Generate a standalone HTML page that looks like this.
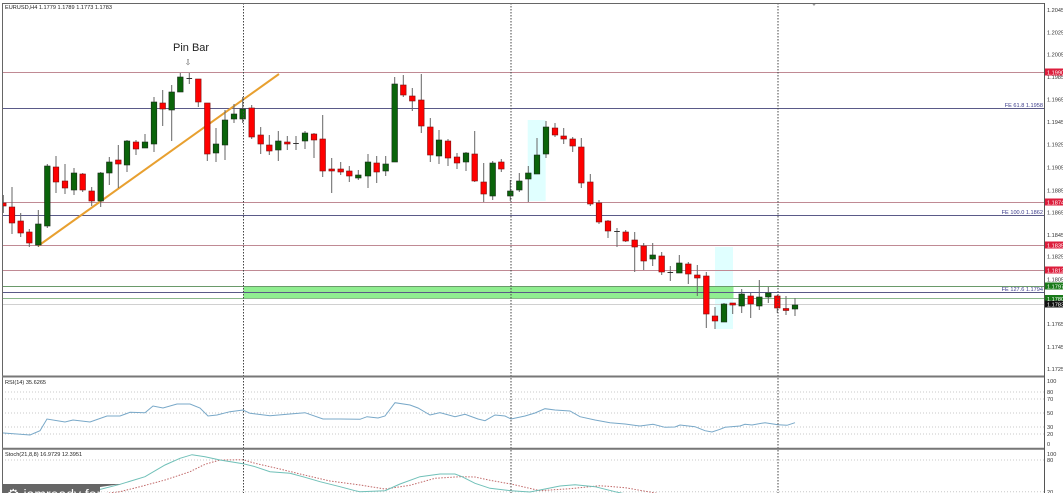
<!DOCTYPE html>
<html><head><meta charset="utf-8"><style>
html,body{margin:0;padding:0;background:#fff;}
svg{display:block;font-family:"Liberation Sans",sans-serif;}
.ax{font-size:5.6px;fill:#333;}
</style></head><body>
<svg width="1063" height="493" viewBox="0 0 1063 493" xmlns="http://www.w3.org/2000/svg">
<defs><clipPath id="mc"><rect x="2" y="3" width="1042" height="373"/></clipPath>
<clipPath id="rc"><rect x="2" y="377" width="1042" height="71"/></clipPath>
<clipPath id="sc"><rect x="2" y="449.5" width="1042" height="44"/></clipPath></defs>
<rect width="1063" height="493" fill="#fff"/>
<g clip-path="url(#mc)">
<rect x="527.7" y="120" width="18" height="81" fill="#e0ffff"/>
<rect x="715" y="247" width="18" height="82" fill="#e0ffff"/>
<g stroke-width="1">
<line x1="2" y1="72.5" x2="1044" y2="72.5" stroke="#c08a94"/>
<line x1="2" y1="108.5" x2="1044" y2="108.5" stroke="#5a5a88"/>
<line x1="2" y1="202.5" x2="1044" y2="202.5" stroke="#c08a94"/>
<line x1="2" y1="215.5" x2="1044" y2="215.5" stroke="#5a5a88"/>
<line x1="2" y1="245.5" x2="1044" y2="245.5" stroke="#c08a94"/>
<line x1="2" y1="270.5" x2="1044" y2="270.5" stroke="#c08a94"/>
</g>
<rect x="243.5" y="286" width="490" height="12.5" fill="#90ee90"/>
<g stroke-width="1">
<line x1="2" y1="286.5" x2="1044" y2="286.5" stroke="#6a9a6a"/>
<line x1="2" y1="292.5" x2="1044" y2="292.5" stroke="#5a5a88"/>
<line x1="2" y1="298.5" x2="1044" y2="298.5" stroke="#8ab88a"/>
<line x1="2" y1="304.5" x2="1044" y2="304.5" stroke="#d0d0d0"/>
</g>
<line x1="38" y1="246" x2="279" y2="74" stroke="#e8a030" stroke-width="2"/>
<path fill="none" stroke="#666" stroke-width="1" d="M3.3 195V213M12 187V234M20.7 213V237M29.3 229V247M38.3 210V247M47.3 164V228M56 156V193M65 164V194M74 168V195M82.7 173V192M91.7 187V206M100.7 172V207M109.3 157V185M118.3 145V188M127 140V172M136 140V155M145 134V148M154 97V152M162.7 90V126M171.7 85V141M180.3 73V92M189.3 73V84M198.3 79V107M207.3 103V161M216 128V162M225 110V160M234 104V123M242.7 97V123M251.7 105V139M260.7 127V154M269.3 135V155M278.3 131V161M287.3 136V150M296 136V150M305 131V149M314 133V158M322.7 115V177M331.7 158V193M340.7 162V175M349.3 166V182M358.3 170V180M368 154V188M376.7 156V183M385.7 156V176M394.7 77V162M403.3 75V97M412.3 88V111M421.3 74V133M430.3 118V162M439 130V164M448 139V166M457 153V169M466 152V171M474.7 131V182M483.7 163V202M492.7 161V200M501.3 159V172M510.3 180V201M519.3 173V192M528.3 166V202M537 138V174M546 121V158M555 123V137M563.7 128V144M572.7 137V152M581.3 138V188M590.3 174V206M599 200V224M608 220V238M617 228V247M625.7 230V242M634.7 232V272M643.7 243V270M652.7 243V266M661.7 252V275M670.3 266V281M679.3 255V273M688.3 262V284M697.3 265V296M706.3 272V328M715 307V329M724 303V322M732.7 303V314M741.7 289V313M750.7 293V318M759.3 280V310M768.3 287V303M777.3 295V313M786 296V315M795 298V316"/>
<g fill="#ff0000" stroke="#7a1010" stroke-width="0.6">
<rect x="0.5" y="203" width="5.6" height="3"/><rect x="9.2" y="207" width="5.6" height="16"/><rect x="17.9" y="221" width="5.6" height="12"/><rect x="26.5" y="232" width="5.6" height="11"/><rect x="53.2" y="167" width="5.6" height="15"/><rect x="62.2" y="181" width="5.6" height="7"/><rect x="79.9" y="174" width="5.6" height="16"/><rect x="88.9" y="191" width="5.6" height="10"/><rect x="115.5" y="160" width="5.6" height="4"/><rect x="133.2" y="142" width="5.6" height="7"/><rect x="159.9" y="103" width="5.6" height="6"/><rect x="195.5" y="79" width="5.6" height="23"/><rect x="204.5" y="103" width="5.6" height="51"/><rect x="248.9" y="108" width="5.6" height="29"/><rect x="257.9" y="135" width="5.6" height="9"/><rect x="266.5" y="145" width="5.6" height="6"/><rect x="284.5" y="142" width="5.6" height="2"/><rect x="311.2" y="134" width="5.6" height="6"/><rect x="319.9" y="139" width="5.6" height="32"/><rect x="328.9" y="169" width="5.6" height="2"/><rect x="337.9" y="169" width="5.6" height="3"/><rect x="346.5" y="171" width="5.6" height="5"/><rect x="373.9" y="163" width="5.6" height="9"/><rect x="400.5" y="85" width="5.6" height="10"/><rect x="409.5" y="96" width="5.6" height="5"/><rect x="418.5" y="100" width="5.6" height="26"/><rect x="427.5" y="127" width="5.6" height="28"/><rect x="445.2" y="141" width="5.6" height="17"/><rect x="454.2" y="157" width="5.6" height="6"/><rect x="471.9" y="154" width="5.6" height="27"/><rect x="480.9" y="182" width="5.6" height="12"/><rect x="498.5" y="162" width="5.6" height="7"/><rect x="552.2" y="128" width="5.6" height="7"/><rect x="560.9" y="136" width="5.6" height="3"/><rect x="569.9" y="139" width="5.6" height="7"/><rect x="578.5" y="147" width="5.6" height="36"/><rect x="587.5" y="182" width="5.6" height="22"/><rect x="596.2" y="203" width="5.6" height="19"/><rect x="605.2" y="221" width="5.6" height="10"/><rect x="622.9" y="232" width="5.6" height="9"/><rect x="631.9" y="240" width="5.6" height="7"/><rect x="640.9" y="246" width="5.6" height="15"/><rect x="658.9" y="256" width="5.6" height="16"/><rect x="685.5" y="264" width="5.6" height="10"/><rect x="694.5" y="275" width="5.6" height="3"/><rect x="703.5" y="276" width="5.6" height="38"/><rect x="712.2" y="316" width="5.6" height="5"/><rect x="729.9" y="303" width="5.6" height="2"/><rect x="747.9" y="296" width="5.6" height="8"/><rect x="774.5" y="296" width="5.6" height="12"/><rect x="783.2" y="308.5" width="5.6" height="2"/>
</g>
<g fill="#0a640a" stroke="#1a2a1a" stroke-width="0.6">
<rect x="35.5" y="224" width="5.6" height="21"/><rect x="44.5" y="166" width="5.6" height="60"/><rect x="71.2" y="173" width="5.6" height="17"/><rect x="97.9" y="173" width="5.6" height="28"/><rect x="106.5" y="162" width="5.6" height="11"/><rect x="124.2" y="141" width="5.6" height="24"/><rect x="142.2" y="142" width="5.6" height="6"/><rect x="151.2" y="102" width="5.6" height="42"/><rect x="168.9" y="92" width="5.6" height="18"/><rect x="177.5" y="77" width="5.6" height="15"/><rect x="213.2" y="144" width="5.6" height="9"/><rect x="222.2" y="120" width="5.6" height="25"/><rect x="231.2" y="114" width="5.6" height="5"/><rect x="239.9" y="109" width="5.6" height="10"/><rect x="275.5" y="141" width="5.6" height="9"/><rect x="302.2" y="133" width="5.6" height="8"/><rect x="355.5" y="175" width="5.6" height="3"/><rect x="365.2" y="162" width="5.6" height="14"/><rect x="382.9" y="164" width="5.6" height="7"/><rect x="391.9" y="84" width="5.6" height="78"/><rect x="436.2" y="140" width="5.6" height="16"/><rect x="463.2" y="153" width="5.6" height="9"/><rect x="489.9" y="163" width="5.6" height="33"/><rect x="507.5" y="191" width="5.6" height="5"/><rect x="516.5" y="181" width="5.6" height="9"/><rect x="525.5" y="173" width="5.6" height="6"/><rect x="534.2" y="155" width="5.6" height="19"/><rect x="543.2" y="127" width="5.6" height="27"/><rect x="649.9" y="255" width="5.6" height="4"/><rect x="676.5" y="263" width="5.6" height="10"/><rect x="721.2" y="304" width="5.6" height="18"/><rect x="738.9" y="294" width="5.6" height="12"/><rect x="756.5" y="297" width="5.6" height="9"/><rect x="765.5" y="293" width="5.6" height="4"/><rect x="792.2" y="305" width="5.6" height="4"/>
</g>
<path stroke="#333" stroke-width="1" d="M186.5 78.5H192.1M293.2 143.5H298.8M614.2 231.5H619.8M667.5 272.5H673.1"/>
<text x="5" y="9" font-size="5.6" fill="#222">EURUSD,H4  1.1779 1.1789 1.1773 1.1783</text>
<text x="173" y="51" font-size="11" fill="#222">Pin Bar</text>
<text x="188" y="65" font-size="8" fill="#666" text-anchor="middle">⇩</text>
<path d="M812 3.5H816L814 6Z" fill="#999"/>
<g font-size="5.6" fill="#3a3a8a" text-anchor="end">
<text x="1043" y="107">FE 61.8 1.1958</text>
<text x="1043" y="214">FE 100.0 1.1862</text>
<text x="1043" y="291">FE 127.6 1.1794</text>
</g>
</g>
<!-- RSI -->
<g clip-path="url(#rc)">
<g stroke="#c8c8c8" stroke-dasharray="1,2" stroke-width="1">
<line x1="2" y1="392" x2="1044" y2="392"/><line x1="2" y1="399" x2="1044" y2="399"/><line x1="2" y1="413" x2="1044" y2="413"/><line x1="2" y1="427" x2="1044" y2="427"/><line x1="2" y1="434" x2="1044" y2="434"/>
</g>
<polyline fill="none" stroke="#78a8c8" stroke-width="1" points="0,432.7 30,435 40,430.7 47,419 65,422 73,420 90,422 107,416 120,416 130,412.3 145,412.7 153,406 163,408 177,404 190,404 200,408 208,416 217,415 230,411.7 243,410 250,413.3 270,415.7 290,414 305,412.7 323,419 340,419 360,419.3 367,416.7 378,418 385,416 395,402.7 410,405 418,408 430,415 440,412.7 455,416.7 465,414.3 478,419 485,420.7 495,415 505,416 511,419 525,416 535,413 545,408.7 555,410 570,411 580,416.7 595,420 610,422.7 625,424 640,426 653,424.3 665,427.3 675,427 680,425 695,426.7 705,430.7 712,432 720,429.3 725,427.3 740,426 745,424.3 752,425 765,422.7 778,424.7 787,425.3 795,422.7"/>
<text x="5" y="384" font-size="5.6" fill="#222">RSI(14) 35.6265</text>
</g>
<!-- Stoch -->
<g clip-path="url(#sc)">
<g stroke="#c8c8c8" stroke-dasharray="1,2" stroke-width="1">
<line x1="2" y1="460" x2="1044" y2="460"/><line x1="2" y1="491.7" x2="1044" y2="491.7"/>
</g>
<polyline fill="none" stroke="#c06868" stroke-width="1" stroke-dasharray="1.5,1.5" points="100,494 120,491.7 140,486.7 165,480 190,471.7 205,464.3 220,460 243,459.7 255,463.3 280,469 300,474 330,481 360,485 385,489 410,485.3 435,478.3 460,476.7 475,477 490,480.3 511,484 540,490.7 570,488.7 600,485.7 625,487.7 650,492 665,495"/>
<polyline fill="none" stroke="#70c0b8" stroke-width="1" points="90,492 120,484.3 145,476.7 165,465 180,458.3 192,454.7 205,456.7 220,460 243,463.7 255,466.7 270,471.7 290,473.3 305,477.3 320,481.7 340,486.7 355,490.7 360,491.7 385,490.7 400,484 420,476.7 440,474 455,474 462,476.7 475,483.3 490,488.3 511,490.7 530,492 545,489 560,486 575,484.7 595,486.7 615,491.7 630,495"/>
<text x="5" y="456" font-size="5.6" fill="#222">Stoch(21,8,8) 16.9729 12.3951</text>
<path d="M3 484H121L100 487V494H3Z" fill="#666"/>
<text x="7" y="499" font-size="14" fill="#fff">⚙ iamready forex</text>
</g>
<!-- verticals -->
<g stroke="#444" stroke-width="1" stroke-dasharray="1.5,1.5">
<line x1="243.5" y1="3" x2="243.5" y2="493"/><line x1="511" y1="3" x2="511" y2="493"/><line x1="778" y1="3" x2="778" y2="493"/>
</g>
<!-- frame -->
<line x1="2" y1="3.5" x2="1044" y2="3.5" stroke="#666" stroke-width="1"/>
<line x1="2.5" y1="3" x2="2.5" y2="493" stroke="#666" stroke-width="1"/>
<line x1="2" y1="376.5" x2="1044" y2="376.5" stroke="#777" stroke-width="2"/>
<line x1="2" y1="448.8" x2="1044" y2="448.8" stroke="#777" stroke-width="2"/>
<line x1="1044.5" y1="3" x2="1044.5" y2="493" stroke="#555" stroke-width="1"/>
<!-- axis labels -->
<g class="ax">
<text x="1047" y="12">1.2045</text><text x="1047" y="34.3">1.2025</text><text x="1047" y="56.3">1.2005</text><text x="1047" y="79">1.1985</text><text x="1047" y="101.3">1.1965</text><text x="1047" y="124">1.1945</text><text x="1047" y="146.7">1.1925</text><text x="1047" y="169.3">1.1905</text><text x="1047" y="192.3">1.1885</text><text x="1047" y="214.7">1.1865</text><text x="1047" y="237">1.1845</text><text x="1047" y="258.7">1.1825</text><text x="1047" y="281.3">1.1805</text><text x="1047" y="326">1.1765</text><text x="1047" y="349">1.1745</text><text x="1047" y="371">1.1725</text>
<text x="1047" y="383">100</text><text x="1047" y="394">80</text><text x="1047" y="401">70</text><text x="1047" y="415">50</text><text x="1047" y="429">30</text><text x="1047" y="436">20</text><text x="1047" y="446">0</text>
<text x="1047" y="456">100</text><text x="1047" y="462">80</text><text x="1047" y="494">20</text>
</g>
<g>
<rect x="1045" y="68.5" width="18" height="7" fill="#dc1e3c"/>
<rect x="1045" y="198.5" width="18" height="7" fill="#dc1e3c"/>
<rect x="1045" y="241.5" width="18" height="7" fill="#dc1e3c"/>
<rect x="1045" y="266.5" width="18" height="7" fill="#dc1e3c"/>
<rect x="1045" y="282.5" width="18" height="7" fill="#1a7a1a"/>
<rect x="1045" y="295" width="18" height="7" fill="#1a7a1a"/>
<rect x="1045" y="300.5" width="18" height="7" fill="#111"/>
</g>
<g font-size="5.6" fill="#fff">
<text x="1047" y="74.3">1.1990</text><text x="1047" y="204.3">1.1874</text><text x="1047" y="247.3">1.1835</text><text x="1047" y="272.3">1.1812</text><text x="1047" y="288.3">1.1797</text><text x="1047" y="300.8">1.1780</text><text x="1047" y="306.3">1.1783</text>
</g>
</svg>
</body></html>
